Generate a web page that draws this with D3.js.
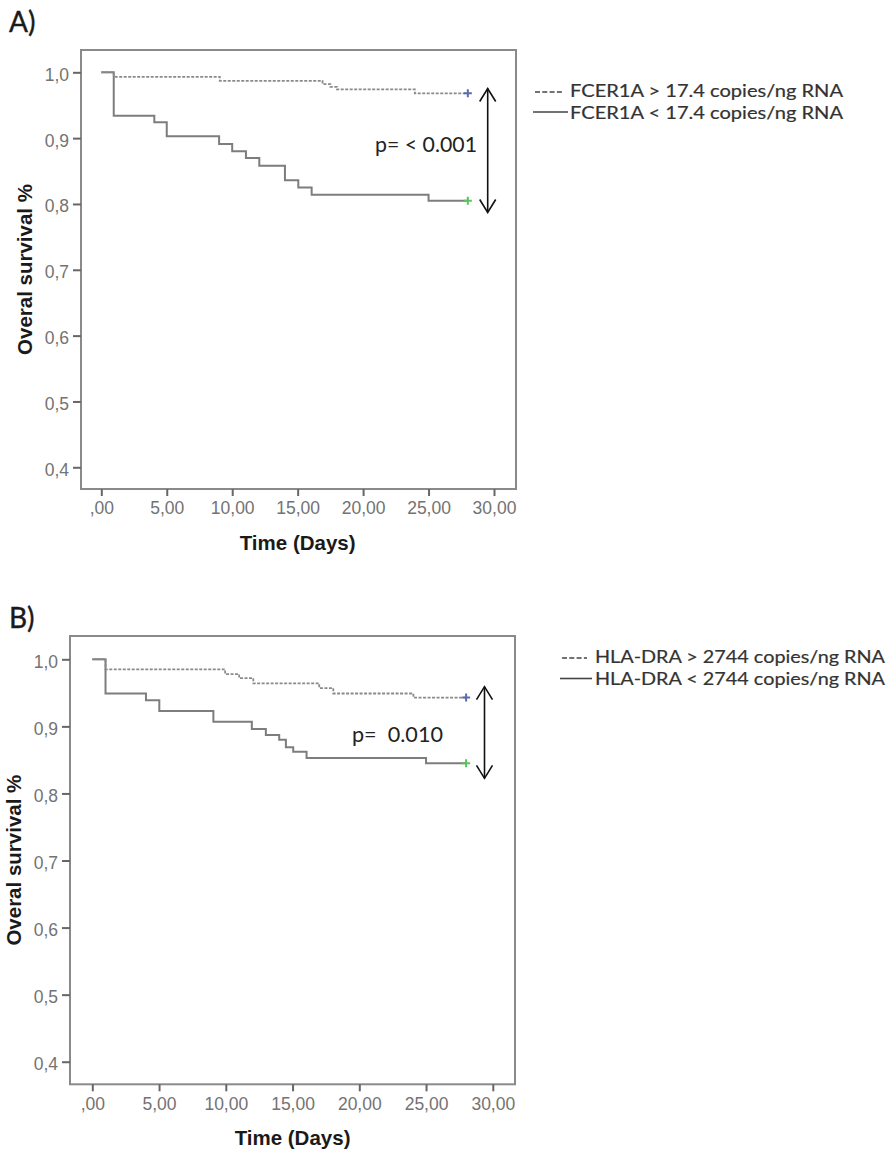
<!DOCTYPE html>
<html>
<head>
<meta charset="utf-8">
<script src="https://cdn.jsdelivr.net/npm/d3@7"></script>
<style>
  html, body { margin: 0; padding: 0; background: #fff; }
  svg { display: block; }
  text { white-space: pre; }
</style>
</head>
<body>
<svg id="chart" width="894" height="1155"></svg>
<script>
// ---------- DATA ----------
const xTicks = [0, 5, 10, 15, 20, 25, 30];
const xTickLabels = [",00", "5,00", "10,00", "15,00", "20,00", "25,00", "30,00"];
const yTicks = [0.4, 0.5, 0.6, 0.7, 0.8, 0.9, 1.0];
const yTickLabels = ["0,4", "0,5", "0,6", "0,7", "0,8", "0,9", "1,0"];
const endTime = 28;

// Panel A: FCER1A
const aHighTimes = [0, 0.95, 9.05, 16.9, 17.5, 18.0, 23.95];
const aHighSurv  = [1.0, 0.993, 0.987, 0.982, 0.978, 0.974, 0.968];
const aLowTimes  = [0, 0.95, 4.05, 5.0, 9.0, 10.0, 11.05, 12.07, 14.03, 15.05, 16.07, 25.0];
const aLowSurv   = [1.0, 0.934, 0.924, 0.903, 0.891, 0.880, 0.870, 0.858, 0.836, 0.825, 0.814, 0.805];
const aLegend = ["FCER1A > 17.4 copies/ng RNA", "FCER1A < 17.4 copies/ng RNA"];
const aPValue = "p= < 0.001";

// Panel B: HLA-DRA
const bHighTimes = [0, 0.99, 9.95, 11.0, 12.06, 17.0, 18.05, 24.05];
const bHighSurv  = [1.0, 0.985, 0.978, 0.972, 0.964, 0.957, 0.949, 0.943];
const bLowTimes  = [0, 0.99, 4.02, 5.02, 9.07, 11.95, 13.0, 14.0, 14.5, 15.05, 16.05, 25.0];
const bLowSurv   = [1.0, 0.949, 0.939, 0.923, 0.907, 0.896, 0.887, 0.880, 0.869, 0.862, 0.853, 0.845];
const bLegend = ["HLA-DRA > 2744 copies/ng RNA", "HLA-DRA < 2744 copies/ng RNA"];
const bPValue = "p=  0.010";

const xTitle = "Time (Days)";
const yTitle = "Overal survival %";

// ---------- DRAW ----------
const svg = d3.select("#chart");

function toPts(times, surv) {
  const pts = times.map((t, i) => [t, surv[i]]);
  pts.push([endTime, surv[surv.length - 1]]);
  return pts;
}

function drawPanel(cfg) {
  const g = svg.append("g");
  const f = cfg.frame; // {l, t, r, b}
  const x = d3.scaleLinear().domain(cfg.xDomain).range([f.l, f.r]);
  const y = d3.scaleLinear().domain(cfg.yDomain).range([f.b, f.t]);

  // panel label
  g.append("text").attr("x", cfg.labelX).attr("y", cfg.labelY)
    .attr("font-family", "Lato, 'Open Sans', sans-serif").attr("font-size", 28)
    .attr("fill", "#1a1a1a").attr("stroke", "#1a1a1a").attr("stroke-width", 0.4)
    .text(cfg.label);

  // frame
  g.append("rect").attr("x", f.l).attr("y", f.t)
    .attr("width", f.r - f.l).attr("height", f.b - f.t)
    .attr("fill", "none").attr("stroke", "#8a8a8a").attr("stroke-width", 2);

  // y axis
  const yAxis = d3.axisLeft(y).tickValues(yTicks).tickSize(8).tickPadding(4)
    .tickFormat((d, i) => yTickLabels[i]);
  const ya = g.append("g").attr("transform", `translate(${f.l},0)`).call(yAxis);
  ya.select(".domain").remove();
  ya.selectAll("line").attr("stroke", "#666").attr("stroke-width", 2);
  ya.selectAll("text").attr("font-family", "'Liberation Sans', Arial, sans-serif")
    .attr("font-size", 17.5).attr("fill", "#737373").attr("dy", "0.45em");

  // x axis
  const xAxis = d3.axisBottom(x).tickValues(xTicks).tickSize(7).tickPadding(6)
    .tickFormat((d, i) => xTickLabels[i]);
  const xa = g.append("g").attr("transform", `translate(0,${f.b})`).call(xAxis);
  xa.select(".domain").remove();
  xa.selectAll("line").attr("stroke", "#666").attr("stroke-width", 2);
  xa.selectAll("text").attr("font-family", "'Liberation Sans', Arial, sans-serif")
    .attr("font-size", 17.5).attr("fill", "#737373");

  // axis titles
  g.append("text").attr("x", (x(0) + x(30)) / 2).attr("y", f.b + 61)
    .attr("text-anchor", "middle")
    .attr("font-family", "'Liberation Sans', Arial, sans-serif")
    .attr("font-weight", "bold").attr("font-size", 20.5).attr("fill", "#1a1a1a")
    .text(xTitle);
  g.append("text")
    .attr("transform", `translate(${cfg.yTitleX},${(f.t + f.b) / 2}) rotate(-90)`)
    .attr("text-anchor", "middle")
    .attr("font-family", "'Liberation Sans', Arial, sans-serif")
    .attr("font-weight", "bold").attr("font-size", 20.5).attr("fill", "#1a1a1a")
    .text(yTitle);

  const line = d3.line().x(d => x(d[0])).y(d => y(d[1])).curve(d3.curveStepAfter);

  const hi = toPts(cfg.highTimes, cfg.highSurv);
  const lo = toPts(cfg.lowTimes, cfg.lowSurv);

  g.append("path").attr("d", line(lo)).attr("fill", "none")
    .attr("stroke", "#7d7d7d").attr("stroke-width", 2);
  g.append("path").attr("d", line(hi)).attr("fill", "none")
    .attr("stroke", "#8a8a8a").attr("stroke-width", 1.8)
    .attr("stroke-dasharray", "3,1.5");

  // censor marks
  function plus(px, py, color) {
    g.append("path").attr("d", `M${px - 4},${py}H${px + 4}M${px},${py - 4}V${py + 4}`)
      .attr("stroke", color).attr("stroke-width", 2);
  }
  plus(x(endTime), y(hi[hi.length - 1][1]), "#5a6bb0");
  plus(x(endTime), y(lo[lo.length - 1][1]), "#5cc35c");

  // double arrow
  const ax = cfg.arrowX, at = cfg.arrowTop, ab = cfg.arrowBot;
  g.append("line").attr("x1", ax).attr("x2", ax).attr("y1", at).attr("y2", ab)
    .attr("stroke", "#111").attr("stroke-width", 1.6);
  g.append("path").attr("d", `M${ax - 8},${at + 13}L${ax},${at}L${ax + 8},${at + 13}`)
    .attr("fill", "none").attr("stroke", "#111").attr("stroke-width", 1.6);
  g.append("path").attr("d", `M${ax - 8},${ab - 13}L${ax},${ab}L${ax + 8},${ab - 13}`)
    .attr("fill", "none").attr("stroke", "#111").attr("stroke-width", 1.6);

  // p-value
  g.append("text").attr("x", cfg.pX).attr("y", cfg.pY)
    .attr("font-family", "Lato, 'Open Sans', sans-serif").attr("font-size", 22)
    .attr("fill", "#222")
    .attr("textLength", cfg.pW).attr("lengthAdjust", "spacingAndGlyphs")
    .text(cfg.pText);

  // legend
  const L = cfg.legend;
  g.append("line").attr("x1", L.dashX1).attr("x2", L.dashX2)
    .attr("y1", L.y1 - 5).attr("y2", L.y1 - 5)
    .attr("stroke", "#444").attr("stroke-width", 1.4).attr("stroke-dasharray", "5,2.3");
  g.append("line").attr("x1", L.solidX1).attr("x2", L.solidX2)
    .attr("y1", L.y2 - 6.5).attr("y2", L.y2 - 6.5)
    .attr("stroke", "#444").attr("stroke-width", 1.6);
  [L.y1, L.y2].forEach((yy, i) => {
    g.append("text").attr("x", L.textX).attr("y", yy)
      .attr("font-family", "Lato, 'Open Sans', sans-serif").attr("font-size", 17.5)
      .attr("fill", "#333").attr("stroke", "#333").attr("stroke-width", 0.2)
      .attr("textLength", L.textW).attr("lengthAdjust", "spacingAndGlyphs")
      .text(cfg.legendText[i]);
  });
}

// Panel A geometry: x: 13.09 px/day with 0 at 101.3; y: 658.3 px per unit with 1.0 at 72.3
drawPanel({
  label: "A)", labelX: 9, labelY: 32,
  frame: { l: 81, t: 50, r: 516, b: 489 },
  xDomain: [(81 - 101.3) / 13.09, (516 - 101.3) / 13.09],
  yDomain: [1 - (489 - 72.3) / 658.3, 1 - (50 - 72.3) / 658.3],
  yTitleX: 32,
  highTimes: aHighTimes, highSurv: aHighSurv,
  lowTimes: aLowTimes, lowSurv: aLowSurv,
  arrowX: 487.7, arrowTop: 88.5, arrowBot: 212.5,
  pText: aPValue, pX: 375, pY: 152, pW: 102,
  legendText: aLegend,
  legend: { dashX1: 535, dashX2: 564, solidX1: 533, solidX2: 568, textX: 570, textW: 273, y1: 97, y2: 118.5 }
});

// Panel B geometry: x: 13.35 px/day with 0 at 92.3; y: 670.7 px per unit with 1.0 at 659.3
drawPanel({
  label: "B)", labelX: 9, labelY: 628,
  frame: { l: 70, t: 636, r: 515, b: 1084.3 },
  xDomain: [(70 - 92.3) / 13.35, (515 - 92.3) / 13.35],
  yDomain: [1 - (1084.3 - 659.3) / 670.7, 1 - (636 - 659.3) / 670.7],
  yTitleX: 21,
  highTimes: bHighTimes, highSurv: bHighSurv,
  lowTimes: bLowTimes, lowSurv: bLowSurv,
  arrowX: 484.5, arrowTop: 686.7, arrowBot: 778.3,
  pText: bPValue, pX: 352, pY: 742, pW: 91,
  legendText: bLegend,
  legend: { dashX1: 562, dashX2: 587, solidX1: 560, solidX2: 592, textX: 595, textW: 290, y1: 663, y2: 685 }
});
</script>
</body>
</html>
